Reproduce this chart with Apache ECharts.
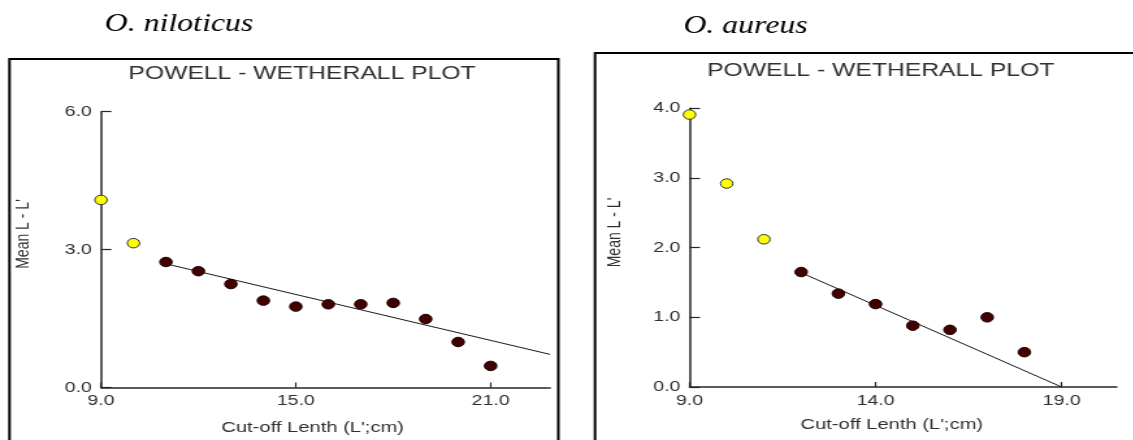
<!DOCTYPE html>
<html>
<head>
<meta charset="utf-8">
<script src="https://cdn.jsdelivr.net/npm/echarts@6/dist/echarts.min.js"></script>
<style>
  html, body { margin: 0; padding: 0; background: #ffffff; overflow: hidden; }
  #wrap { width: 872px; height: 440px; transform: scaleX(1.3); transform-origin: 0 0; }
  #chart { width: 872px; height: 440px; }
</style>
</head>
<body>
<div id="wrap"><div id="chart"></div></div>
<script>
// ---------- O. niloticus ----------
const nilYellowX = [9, 10];
const nilYellowY = [4.08, 3.14];
const nilDarkX = [11, 12, 13, 14, 15, 16, 17, 18, 19, 20, 21];
const nilDarkY = [2.73, 2.53, 2.25, 1.89, 1.76, 1.81, 1.81, 1.84, 1.49, 0.99, 0.47];
const nilLineX = [11, 22.83];
const nilLineY = [2.69, 0.72];
const nilXTicks = [9, 15, 21];
const nilYTicks = [0, 3, 6];

// ---------- O. aureus ----------
const aurYellowX = [9, 10, 11];
const aurYellowY = [3.91, 2.92, 2.12];
const aurDarkX = [12, 13, 14, 15, 16, 17, 18];
const aurDarkY = [1.65, 1.34, 1.19, 0.88, 0.82, 1.00, 0.50];
const aurLineX = [12, 19];
const aurLineY = [1.64, 0.0];
const aurXTicks = [9, 14, 19];
const aurYTicks = [0, 1, 2, 3, 4];

const speciesTitles = ['O. niloticus', 'O. aureus'];
const plotTitle = 'POWELL - WETHERALL PLOT';
const xName = "Cut-off Lenth (L';cm)";
const yName = "Mean L - L'";

const zip = (xs, ys) => xs.map((x, i) => [x, ys[i]]);

const AX = '#262626';
const TXT = '#303030';
const SANS = '"Liberation Sans", Arial, sans-serif';

function xAxisCfg(gi, min, max, ticks) {
  return {
    gridIndex: gi, type: 'value', min: min, max: max,
    axisLine: { show: true, onZero: false, lineStyle: { color: AX, width: 1.5 } },
    axisTick: { show: true, inside: true, length: 5, customValues: ticks, lineStyle: { color: AX, width: 1.2 } },
    axisLabel: { customValues: ticks, formatter: v => v.toFixed(1), fontFamily: SANS, fontSize: 15, color: TXT, margin: 6 },
    splitLine: { show: false }
  };
}
function yAxisCfg(gi, min, max, ticks) {
  return {
    gridIndex: gi, type: 'value', min: min, max: max,
    axisLine: { show: true, onZero: false, lineStyle: { color: AX, width: 1.5 } },
    axisTick: { show: true, inside: true, length: 8, customValues: ticks, lineStyle: { color: AX, width: 1.2 } },
    axisLabel: { customValues: ticks, formatter: v => v.toFixed(1), fontFamily: SANS, fontSize: 15, color: TXT, margin: 7, padding: [0, 0, 5, 0] },
    splitLine: { show: false }
  };
}
function scatter(gi, xs, ys, fill, border) {
  return {
    type: 'scatter', xAxisIndex: gi, yAxisIndex: gi, data: zip(xs, ys),
    symbol: 'circle', symbolSize: 9.5, clip: false, z: 5,
    itemStyle: { color: fill, borderColor: border, borderWidth: 1, opacity: 1 }
  };
}
function fitLine(gi, xs, ys) {
  return {
    type: 'line', xAxisIndex: gi, yAxisIndex: gi, data: zip(xs, ys),
    showSymbol: false, symbol: 'none', clip: false, z: 3, silent: true,
    lineStyle: { color: '#1a1a1a', width: 1 }
  };
}
function txt(x, y, text, font, opts) {
  return Object.assign({
    type: 'text', x: x, y: y, silent: true,
    style: { text: text, font: font, fill: TXT, align: 'center', verticalAlign: 'middle' }
  }, opts || {});
}

const chart = echarts.init(document.getElementById('chart'), null, { renderer: 'canvas' });
chart.setOption({
  animation: false,
  backgroundColor: '#ffffff',
  grid: [
    { left: 77.7, right: 448.9, top: 111.7, bottom: 52.5 },
    { left: 530.4, right: 13, top: 108.3, bottom: 53 }
  ],
  xAxis: [
    xAxisCfg(0, 9, 22.83, nilXTicks),
    xAxisCfg(1, 9, 20.48, aurXTicks)
  ],
  yAxis: [
    yAxisCfg(0, 0, 6, nilYTicks),
    yAxisCfg(1, 0, 4, aurYTicks)
  ],
  series: [
    fitLine(0, nilLineX, nilLineY),
    scatter(0, nilYellowX, nilYellowY, '#FFFF00', '#333333'),
    scatter(0, nilDarkX, nilDarkY, '#420000', '#1a0000'),
    fitLine(1, aurLineX, aurLineY),
    scatter(1, aurYellowX, aurYellowY, '#FFFF00', '#333333'),
    scatter(1, aurDarkX, aurDarkY, '#420000', '#1a0000')
  ],
  graphic: [
    { type: 'rect', silent: true, shape: { x: 7.3, y: 59, width: 422.2, height: 420 }, style: { fill: 'none', stroke: '#000', lineWidth: 2 } },
    { type: 'rect', silent: true, shape: { x: 457.7, y: 53, width: 500, height: 420 }, style: { fill: 'none', stroke: '#000', lineWidth: 2 } },
    txt(137.7, 25, speciesTitles[0], 'italic 24.5px "Liberation Serif", "Times New Roman", serif', { style: { text: speciesTitles[0], font: 'italic 24.5px "Liberation Serif", "Times New Roman", serif', fill: '#000', align: 'center', verticalAlign: 'middle' } }),
    txt(573.5, 26.5, speciesTitles[1], '', { style: { text: speciesTitles[1], font: 'italic 24.5px "Liberation Serif", "Times New Roman", serif', fill: '#000', align: 'center', verticalAlign: 'middle' } }),
    txt(232.3, 74, plotTitle, '19px ' + SANS),
    txt(677.5, 70.5, plotTitle, '19px ' + SANS),
    txt(240.5, 427.5, xName, '15.5px ' + SANS),
    txt(686, 424.5, xName, '15.5px ' + SANS),
    txt(18.2, 234, yName, '14px ' + SANS, { rotation: Math.PI / 2 }),
    txt(473.5, 232.5, yName, '14px ' + SANS, { rotation: Math.PI / 2 })
  ]
});
</script>
</body>
</html>
